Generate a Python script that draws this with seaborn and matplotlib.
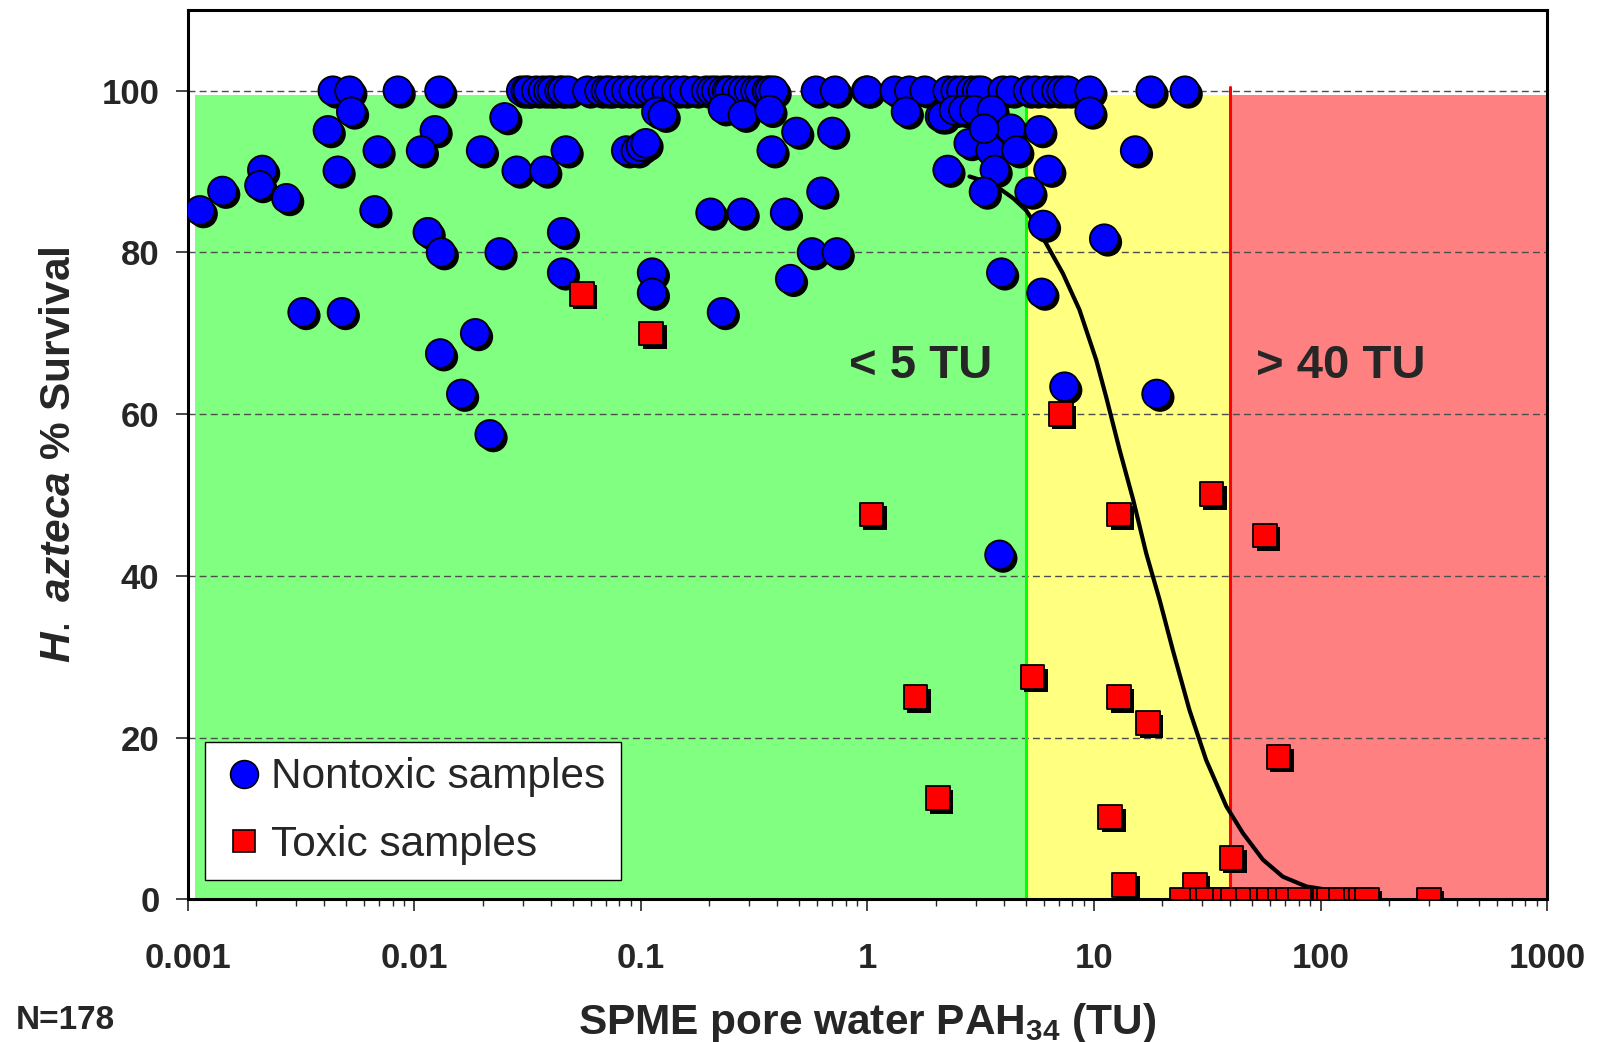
import matplotlib
matplotlib.use('Agg')
import matplotlib.pyplot as plt
from matplotlib import patheffects as pe
from matplotlib.lines import Line2D
import seaborn as sns
import pandas as pd

# --- Data ---
nontoxic_x = [
    # top row, 100 %
    0.00436, 0.00517, 0.00845, 0.0129,
    0.0296, 0.031, 0.0317, 0.0345, 0.0369, 0.039, 0.0405, 0.0437, 0.045, 0.0476, 0.058,
    0.0656, 0.070, 0.0727, 0.080, 0.0861, 0.093, 0.102, 0.110, 0.117, 0.130, 0.143,
    0.155, 0.173, 0.194, 0.205, 0.215, 0.230, 0.24, 0.246, 0.265, 0.282, 0.300, 0.32,
    0.334, 0.36, 0.370, 0.386,
    0.592, 0.719, 0.988, 1.0, 1.32, 1.53, 1.79, 2.26, 2.45, 2.60, 2.87, 3.05, 3.18,
    3.96, 4.3, 5.11, 5.5, 6.15, 6.82, 7.2, 7.67, 9.57, 17.8, 25.2,
    # just under 100 %
    0.00526, 0.025, 0.117, 0.125, 0.230, 0.282, 0.370, 1.48, 2.09, 2.15, 2.41, 2.65,
    2.96, 3.54, 9.57,
    # low concentrations
    0.00113, 0.00142, 0.00213, 0.00207, 0.00272, 0.00415, 0.00459, 0.00689, 0.00667,
    0.0123, 0.0107, 0.01146, 0.0131, 0.0197, 0.0238, 0.0283, 0.0375, 0.0466, 0.0449,
    0.0449, 0.00321, 0.00479, 0.01855, 0.0130, 0.0161, 0.0215, 0.112, 0.112,
    0.0861, 0.095, 0.100, 0.105,
    0.486, 0.70, 0.378, 0.627, 0.203, 0.279, 0.433, 0.569, 0.733, 0.456, 0.228,
    # around the 5 TU boundary
    4.29, 5.75, 2.80, 3.50, 4.55, 2.26, 3.65, 6.3, 3.27, 5.2, 5.97, 11.1, 3.27,
    15.2, 3.90, 5.87, 7.41, 18.9, 3.83,
]
nontoxic_y = [
    100, 100, 100, 100,
    100, 100, 100, 100, 100, 100, 100, 100, 100, 100, 100,
    100, 100, 100, 100, 100, 100, 100, 100, 100, 100, 100,
    100, 100, 100, 100, 100, 100, 100, 100, 100, 100, 100, 100,
    100, 100, 100, 100,
    100, 100, 100, 100, 100, 100, 100, 100, 100, 100, 100, 100, 100,
    100, 100, 100, 100, 100, 100, 100, 100, 100, 100, 100,
    97.4, 96.7, 97.4, 97.0, 97.8, 97.0, 97.6, 97.4, 96.8, 96.8, 97.6, 97.6,
    97.6, 97.6, 97.4,
    85.2, 87.6, 90.2, 88.3, 86.7, 95.1, 90.1, 92.6, 85.2,
    95.1, 92.6, 82.5, 80.0, 92.6, 80.0, 90.1, 90.1, 92.6, 82.5,
    77.5, 72.6, 72.6, 70.0, 67.5, 62.5, 57.5, 77.5, 75.0,
    92.6, 92.6, 93.1, 93.5,
    94.9, 94.9, 92.6, 87.5, 84.9, 84.9, 84.9, 80.0, 80.0, 76.7, 72.6,
    95.3, 95.1, 93.5, 92.6, 92.6, 90.2, 90.2, 90.2, 87.5, 87.5, 83.4, 81.7, 95.3,
    92.6, 77.5, 75.0, 63.4, 62.5, 42.6,
]

toxic_x = [0.0548, 0.111, 1.04, 1.63, 2.05, 5.36, 7.13, 12.9, 12.9, 11.8, 17.3, 13.6,
           27.9, 33.0, 40.5, 56.8, 65.3,
           24.3, 30, 31.9, 38, 40.9, 48, 55.0, 59.3, 65.9, 72, 80.9, 105, 108.6, 123,
           142.6, 150, 159.9, 301]
toxic_y = [74.9, 70.0, 47.6, 25.0, 12.5, 27.5, 60.0, 47.6, 25.0, 10.2, 21.8, 1.8,
           1.8, 50.1, 5.1, 45.0, 17.6,
           0, 0, 0, 0, 0, 0, 0, 0, 0, 0, 0, 0, 0, 0,
           0, 0, 0, 0]

# fitted dose-response curve
curve_x = [2.82, 3.3, 3.83, 4.4, 5.02, 5.55, 6.15, 7.29, 8.63, 10.23, 11.3, 12.97,
           14.9, 17.0, 19.5, 22.3, 26.4, 31.3, 38.4, 45.4, 55.7, 68.2, 86.5, 106]
curve_y = [89.4, 88.8, 87.9, 86.7, 85.2, 83.3, 81.1, 77.4, 72.9, 66.7, 62.2, 55.6,
           49.4, 42.8, 37.0, 30.8, 23.4, 17.2, 11.5, 8.2, 4.9, 2.8, 1.6, 1.2]

# TU zones
zone_edges = [0.00107, 5, 40, 1000]
zone_colors = ['#80ff80', '#ffff80', '#ff8080']
zone_top = 99.5

xtick_vals = [0.001, 0.01, 0.1, 1, 10, 100, 1000]
xtick_labels = ['0.001', '0.01', '0.1', '1', '10', '100', '1000']
ytick_vals = [0, 20, 40, 60, 80, 100]

df_non = pd.DataFrame({'TU': nontoxic_x, 'Survival': nontoxic_y})
df_tox = pd.DataFrame({'TU': toxic_x, 'Survival': toxic_y})
df_curve = pd.DataFrame({'TU': curve_x, 'Survival': curve_y})

# --- Style ---
sns.set_style('ticks')
plt.rcParams['font.family'] = ['Liberation Sans', 'DejaVu Sans']
plt.rcParams['mathtext.fontset'] = 'custom'
plt.rcParams['mathtext.rm'] = 'Liberation Sans'
plt.rcParams['mathtext.it'] = 'Liberation Sans:bold:italic'
plt.rcParams['mathtext.bf'] = 'Liberation Sans:bold'

fig = plt.figure(figsize=(15.97, 10.42), dpi=100)
ax = fig.add_axes([0.1177, 0.1369, 0.8510, 0.8536])

# background zones
for i, c in enumerate(zone_colors):
    ax.fill_between([zone_edges[i], zone_edges[i + 1]], 0, zone_top,
                    color=c, lw=0, zorder=0.2)
ax.plot([5, 5], [0, 99.5], color='#00ff00', lw=2.2, zorder=0.6)
ax.plot([40, 40], [0, 100.5], color='#ff0000', lw=2.2, zorder=0.6)

# fitted curve
sns.lineplot(data=df_curve, x='TU', y='Survival', color='black', lw=3,
             sort=False, ax=ax, zorder=2)

shadow = [pe.SimplePatchShadow(offset=(2.5, -2.5), shadow_rgbFace='black', alpha=1.0),
          pe.Normal()]

sns.scatterplot(data=df_non, x='TU', y='Survival', marker='o', s=430,
                color='#0000ff', edgecolor='black', linewidth=1.3, ax=ax, zorder=3)
ax.collections[-1].set_path_effects(shadow)
sns.scatterplot(data=df_tox, x='TU', y='Survival', marker='s', s=290,
                color='#ff0000', edgecolor='black', linewidth=1.3, ax=ax, zorder=4)
ax.collections[-1].set_path_effects(shadow)

ax.set_xscale('log')
ax.set_xlim(0.001, 1000)
ax.set_ylim(0, 110)
ax.set_xticks(xtick_vals)
ax.set_xticklabels(xtick_labels, fontsize=25, fontweight='bold')
ax.set_yticks(ytick_vals)
ax.set_yticklabels([str(v) for v in ytick_vals], fontsize=25, fontweight='bold')
ax.tick_params(axis='x', which='major', direction='out', length=8.5, width=1.2, pad=22)
ax.tick_params(axis='x', which='minor', direction='out', length=5, width=1.0)
ax.tick_params(axis='y', which='major', direction='out', length=8.5, width=1.2, pad=12)
ax.tick_params(axis='y', which='minor', left=False)

ax.yaxis.grid(True, color='0.3', lw=1.0, linestyle=(0, (5, 3)))
ax.xaxis.grid(False)
ax.set_axisbelow(True)
for sp in ax.spines.values():
    sp.set_linewidth(2.2)
    sp.set_color('black')

ax.set_xlabel(r'SPME pore water PAH$_{\mathbf{34}}$ (TU)', fontsize=30.5, fontweight='bold')
ax.xaxis.set_label_coords(0.5, -0.114)
ax.set_ylabel(r'$\mathit{H.}$ $\mathit{azteca}$ % Survival', fontsize=30.5,
              fontweight='bold')
ax.yaxis.set_label_coords(-0.080, 0.5)

ax.text(0.826, 66, '< 5 TU', fontsize=34, fontweight='bold', ha='left', va='center')
ax.text(52, 66, '> 40 TU', fontsize=34, fontweight='bold', ha='left', va='center')
fig.text(0.0098, 0.021, 'N=178', fontsize=24, fontweight='bold', ha='left', va='center')

handles = [
    Line2D([], [], marker='o', ls='', markersize=20, markerfacecolor='#0000ff',
           markeredgecolor='black', markeredgewidth=1.2),
    Line2D([], [], marker='s', ls='', markersize=16, markerfacecolor='#ff0000',
           markeredgecolor='black', markeredgewidth=1.2),
]
leg = ax.legend(handles, ['Nontoxic samples', 'Toxic samples'], loc='lower left',
                bbox_to_anchor=(0.0125, 0.022), fontsize=30.5, frameon=True,
                fancybox=False, framealpha=1, edgecolor='black', facecolor='white',
                handlelength=1.1, handletextpad=0.1, borderpad=0.36,
                labelspacing=0.64, borderaxespad=0)
leg.get_frame().set_linewidth(1.0)
leg.set_zorder(10)

fig.savefig('out.png', dpi=100)
